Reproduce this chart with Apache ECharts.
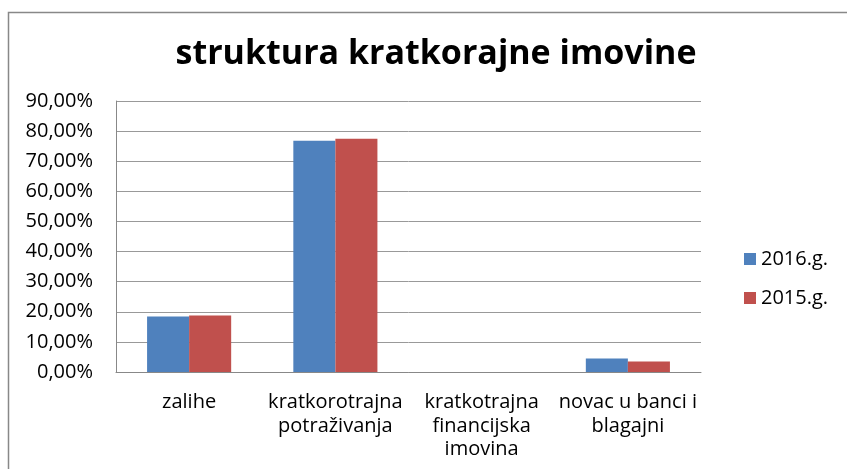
<!DOCTYPE html>
<html>
<head>
<meta charset="utf-8">
<script src="https://cdn.jsdelivr.net/npm/echarts@6/dist/echarts.min.js"></script>
<style>
  html, body { margin: 0; padding: 0; background: #fff; }
  #chart { width: 847px; height: 469px; }
</style>
</head>
<body>
<div id="chart"></div>
<script>
// categories and values (percent)
const categories = [
  "zalihe",
  "kratkorotrajna\npotraživanja",
  "kratkotrajna\nfinancijska\nimovina",
  "novac u banci i\nblagajni",
];
const values2016 = [18.4, 76.8, 0, 4.45];
const values2015 = [18.75, 77.5, 0, 3.45];
const yTicks = [0, 10, 20, 30, 40, 50, 60, 70, 80, 90];

const font = "Open Sans";

var chart = echarts.init(document.getElementById("chart"));

var option = {
  animation: false,
  title: {
    text: "struktura kratkorajne imovine",
    left: 431,
    top: 32,
    textAlign: "center",
    textStyle: {
      fontFamily: font,
      fontSize: 34,
      fontWeight: "bold",
      color: "#000",
    },
  },
  // chart border (cut off at right and bottom like the reference)
  graphic: [
    {
      type: "rect",
      shape: { x: 8.5, y: 12.5, width: 900, height: 500 },
      style: { fill: "none", stroke: "#888", lineWidth: 1.5 },
      silent: true,
    },
  ],
  legend: {
    orient: "vertical",
    left: 739,
    top: 244,
    itemWidth: 12,
    itemHeight: 12,
    itemGap: 19,
    icon: "rect",
    textStyle: { fontFamily: font, fontSize: 20, color: "#000" },
    data: ["2016.g.", "2015.g."],
  },
  grid: {
    left: 116,
    right: 146,
    top: 101,
    bottom: 97,
  },
  xAxis: {
    type: "category",
    data: categories,
    axisLine: { lineStyle: { color: "#888" } },
    axisTick: { show: false },
    axisLabel: {
      fontFamily: font,
      fontSize: 20,
      color: "#000",
      lineHeight: 23.5,
      margin: 19,
      interval: 0,
    },
  },
  yAxis: {
    type: "value",
    min: yTicks[0],
    max: yTicks[yTicks.length - 1],
    interval: 10,
    axisLine: { show: true, lineStyle: { color: "#888" } },
    axisTick: { show: false },
    splitLine: { lineStyle: { color: "#999" } },
    axisLabel: {
      fontFamily: font,
      fontSize: 20,
      color: "#000",
      margin: 23,
      formatter: (v) => v.toFixed(2).replace(".", ",") + "%",
    },
  },
  series: [
    {
      name: "2016.g.",
      type: "bar",
      data: values2016,
      barGap: "0%",
      barCategoryGap: "42.5%",
      itemStyle: { color: "#4F81BD" },
    },
    {
      name: "2015.g.",
      type: "bar",
      data: values2015,
      itemStyle: { color: "#C0504D" },
    },
  ],
};

chart.setOption(option);
</script>
</body>
</html>
